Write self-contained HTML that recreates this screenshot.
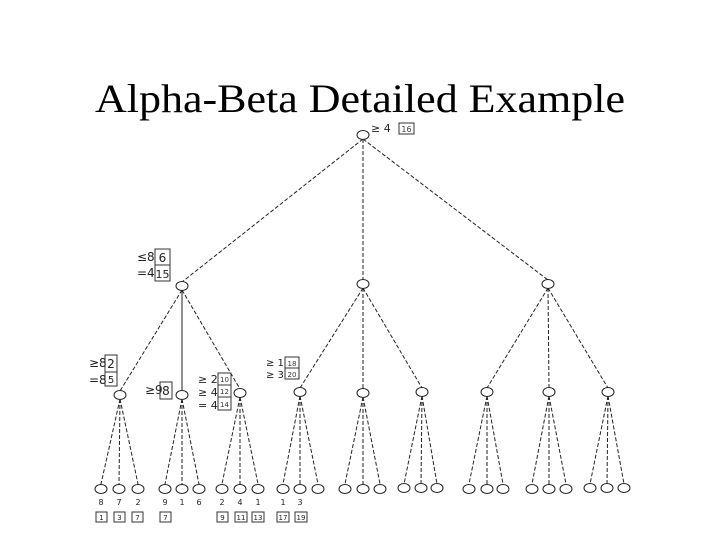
<!DOCTYPE html>
<html><head><meta charset="utf-8"><style>body{margin:0;background:#fff}svg{display:block}</style></head><body>
<svg width="720" height="540" xmlns="http://www.w3.org/2000/svg" font-family="'DejaVu Sans','Liberation Sans',sans-serif">
<text x="360" y="112" font-family="'Liberation Serif',serif" font-size="40" text-anchor="middle" textLength="530" lengthAdjust="spacingAndGlyphs">Alpha-Beta Detailed Example</text>
<g stroke="#222" stroke-width="1" stroke-dasharray="4 2" fill="none">
<line x1="363" y1="139" x2="182" y2="282"/>
<line x1="363" y1="139" x2="363" y2="280"/>
<line x1="363" y1="139" x2="548" y2="280"/>
<line x1="182" y1="290" x2="120" y2="391"/>
<line x1="182" y1="290" x2="182" y2="391" stroke-dasharray="none"/>
<line x1="182" y1="290" x2="240" y2="389"/>
<line x1="363" y1="288" x2="300" y2="388"/>
<line x1="363" y1="288" x2="363" y2="388"/>
<line x1="363" y1="288" x2="422" y2="388"/>
<line x1="548" y1="288" x2="487" y2="388"/>
<line x1="548" y1="288" x2="549" y2="388"/>
<line x1="548" y1="288" x2="608" y2="388"/>
</g>
<g stroke="#222" stroke-width="1" stroke-dasharray="4 2" fill="none" id="leaves">
<path d="M120 399L101 484M120 399L119 484M120 399L138 484"/>
<path d="M182 399L165 484M182 399L182 484M182 399L199 484"/>
<path d="M240 397L222 484M240 397L240 484M240 397L258 484"/>
<path d="M300 396L283 484M300 396L300 484M300 396L318 484"/>
<path d="M363 397L345 484M363 397L363 484M363 397L380 484"/>
<path d="M422 396L404 484M422 396L421 484M422 396L437 484"/>
<path d="M487 396L469 484M487 396L487 484M487 396L503 484"/>
<path d="M549 396L532 484M549 396L549 484M549 396L566 484"/>
<path d="M608 396L590 484M608 396L607 484M608 396L624 484"/>
</g>
<g stroke="#222" stroke-width="1" fill="#fff">
<ellipse cx="363" cy="135" rx="6" ry="4.5"/>
<ellipse cx="182" cy="286" rx="6" ry="4.5"/>
<ellipse cx="363" cy="284" rx="6" ry="4.5"/>
<ellipse cx="548" cy="284" rx="6" ry="4.5"/>
<ellipse cx="120" cy="395" rx="6" ry="4.5"/>
<ellipse cx="182" cy="395" rx="6" ry="4.5"/>
<ellipse cx="240" cy="393" rx="6" ry="4.5"/>
<ellipse cx="300" cy="392" rx="6" ry="4.5"/>
<ellipse cx="363" cy="393" rx="6" ry="4.5"/>
<ellipse cx="422" cy="392" rx="6" ry="4.5"/>
<ellipse cx="487" cy="392" rx="6" ry="4.5"/>
<ellipse cx="549" cy="392" rx="6" ry="4.5"/>
<ellipse cx="608" cy="392" rx="6" ry="4.5"/>
<g>
<ellipse cx="101" cy="489" rx="6" ry="4.5"/><ellipse cx="119" cy="489" rx="6" ry="4.5"/><ellipse cx="138" cy="489" rx="6" ry="4.5"/>
<ellipse cx="165" cy="489" rx="6" ry="4.5"/><ellipse cx="182" cy="489" rx="6" ry="4.5"/><ellipse cx="199" cy="489" rx="6" ry="4.5"/>
<ellipse cx="222" cy="489" rx="6" ry="4.5"/><ellipse cx="240" cy="489" rx="6" ry="4.5"/><ellipse cx="258" cy="489" rx="6" ry="4.5"/>
<ellipse cx="283" cy="489" rx="6" ry="4.5"/><ellipse cx="300" cy="489" rx="6" ry="4.5"/><ellipse cx="318" cy="489" rx="6" ry="4.5"/>
<ellipse cx="345" cy="489" rx="6" ry="4.5"/><ellipse cx="363" cy="489" rx="6" ry="4.5"/><ellipse cx="380" cy="489" rx="6" ry="4.5"/>
<ellipse cx="404" cy="488" rx="6" ry="4.5"/><ellipse cx="421" cy="488" rx="6" ry="4.5"/><ellipse cx="437" cy="488" rx="6" ry="4.5"/>
<ellipse cx="469" cy="489" rx="6" ry="4.5"/><ellipse cx="487" cy="489" rx="6" ry="4.5"/><ellipse cx="503" cy="489" rx="6" ry="4.5"/>
<ellipse cx="532" cy="489" rx="6" ry="4.5"/><ellipse cx="549" cy="489" rx="6" ry="4.5"/><ellipse cx="566" cy="489" rx="6" ry="4.5"/>
<ellipse cx="590" cy="488" rx="6" ry="4.5"/><ellipse cx="607" cy="488" rx="6" ry="4.5"/><ellipse cx="624" cy="488" rx="6" ry="4.5"/>
</g>
</g>
<!-- leaf values -->
<g font-size="8" text-anchor="middle" fill="#222">
<text x="101" y="505">8</text><text x="119" y="505">7</text><text x="138" y="505">2</text>
<text x="165" y="505">9</text><text x="182" y="505">1</text><text x="199" y="505">6</text>
<text x="222" y="505">2</text><text x="240" y="505">4</text><text x="258" y="505">1</text>
<text x="283" y="505">1</text><text x="300" y="505">3</text>
</g>
<!-- small boxed step numbers -->
<g stroke="#333" stroke-width="1" fill="none">
<rect x="96" y="512" width="11" height="10"/><rect x="114" y="512" width="11" height="10"/><rect x="132" y="512" width="11" height="10"/>
<rect x="160" y="512" width="11" height="10"/>
<rect x="217" y="512" width="11" height="10"/><rect x="235" y="512" width="12" height="10"/><rect x="252" y="512" width="12" height="10"/>
<rect x="277" y="512" width="12" height="10"/><rect x="295" y="512" width="12" height="10"/>
</g>
<g font-size="7" text-anchor="middle" fill="#222">
<text x="101.5" y="520">1</text><text x="119.5" y="520">3</text><text x="137.5" y="520">7</text>
<text x="165.5" y="520">7</text>
<text x="222.5" y="520">9</text><text x="241" y="520">11</text><text x="258" y="520">13</text>
<text x="283" y="520">17</text><text x="301" y="520">19</text>
</g>
<!-- root annotation -->
<text x="371" y="132" font-size="11" fill="#222">≥ 4</text>
<rect x="399" y="123" width="15" height="11" fill="none" stroke="#333"/>
<text x="406.5" y="132" font-size="8" text-anchor="middle" fill="#444">16</text>
<!-- level1 annotation -->
<text x="137" y="261" font-size="12" fill="#222">≤8</text>
<text x="137" y="277" font-size="12" fill="#222">=4</text>
<rect x="155" y="249" width="15" height="16" fill="none" stroke="#333"/>
<rect x="155" y="265" width="15" height="16" fill="none" stroke="#333"/>
<text x="162.5" y="262" font-size="12" text-anchor="middle" fill="#222">6</text>
<text x="162.5" y="278" font-size="11" text-anchor="middle" fill="#222">15</text>
<!-- group1 annotation -->
<text x="89" y="367" font-size="12" fill="#222">≥8</text>
<text x="89" y="384" font-size="12" fill="#222">=8</text>
<rect x="105" y="355" width="12" height="17" fill="none" stroke="#333"/>
<rect x="105" y="372" width="12" height="14" fill="none" stroke="#333"/>
<text x="111" y="368" font-size="12" text-anchor="middle" fill="#222">2</text>
<text x="111" y="383" font-size="10" text-anchor="middle" fill="#222">5</text>
<!-- group2 -->
<text x="145" y="394" font-size="12" fill="#222">≥9</text>
<rect x="160" y="382" width="12" height="17" fill="none" stroke="#333"/>
<text x="166" y="395" font-size="12" text-anchor="middle" fill="#222">8</text>
<!-- group3 -->
<text x="198" y="383" font-size="11" fill="#222">≥ 2</text>
<text x="198" y="396" font-size="11" fill="#222">≥ 4</text>
<text x="198" y="409" font-size="11" fill="#222">= 4</text>
<rect x="218" y="373" width="13" height="12" fill="none" stroke="#333"/>
<rect x="218" y="385" width="13" height="12" fill="none" stroke="#333"/>
<rect x="218" y="397" width="13" height="13" fill="none" stroke="#333"/>
<g font-size="7" text-anchor="middle" fill="#333"><text x="224.5" y="382">10</text><text x="224.5" y="394">12</text><text x="224.5" y="407">14</text></g>
<!-- group4 -->
<text x="266" y="366" font-size="10" fill="#222">≥ 1</text>
<text x="266" y="378" font-size="10" fill="#222">≥ 3</text>
<rect x="285" y="357" width="14" height="11" fill="none" stroke="#333"/>
<rect x="285" y="368" width="14" height="11" fill="none" stroke="#333"/>
<g font-size="7" text-anchor="middle" fill="#333"><text x="292" y="366">18</text><text x="292" y="377">20</text></g>
</svg>
</body></html>
